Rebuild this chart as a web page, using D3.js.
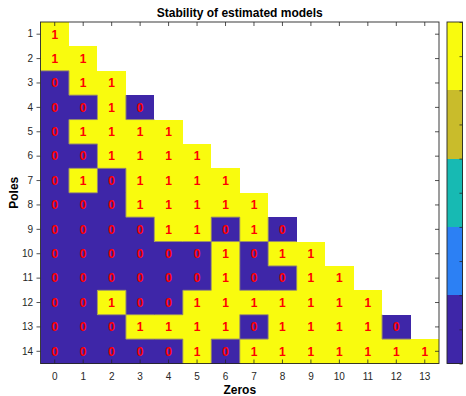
<!DOCTYPE html>
<html>
<head>
<meta charset="utf-8">
<script src="https://cdn.jsdelivr.net/npm/d3@7"></script>
<style>
  html, body { margin: 0; padding: 0; background: #fff; }
  svg { display: block; font-family: "Liberation Sans", Arial, Helvetica, sans-serif; }
</style>
</head>
<body>
<svg id="chart" width="466" height="396"></svg>
<script>
// Number of zeros (columns) and poles (rows)
const zeroTicks = [0, 1, 2, 3, 4, 5, 6, 7, 8, 9, 10, 11, 12, 13];
const poleTicks = [1, 2, 3, 4, 5, 6, 7, 8, 9, 10, 11, 12, 13, 14];

// Stability flag per model: one row per pole count, one entry per zero count (zeros < poles)
const poles1  = [1];
const poles2  = [1, 1];
const poles3  = [0, 1, 1];
const poles4  = [0, 0, 1, 0];
const poles5  = [0, 1, 1, 1, 1];
const poles6  = [0, 0, 1, 1, 1, 1];
const poles7  = [0, 1, 0, 1, 1, 1, 1];
const poles8  = [0, 0, 0, 1, 1, 1, 1, 1];
const poles9  = [0, 0, 0, 0, 1, 1, 0, 1, 0];
const poles10 = [0, 0, 0, 0, 0, 0, 1, 0, 1, 1];
const poles11 = [0, 0, 0, 0, 0, 0, 1, 0, 0, 1, 1];
const poles12 = [0, 0, 1, 0, 0, 1, 1, 1, 1, 1, 1, 1];
const poles13 = [0, 0, 0, 1, 1, 1, 1, 0, 1, 1, 1, 1, 0];
const poles14 = [0, 0, 0, 0, 0, 1, 0, 1, 1, 1, 1, 1, 1, 1];
const stability = [poles1, poles2, poles3, poles4, poles5, poles6, poles7,
                   poles8, poles9, poles10, poles11, poles12, poles13, poles14];

// Five-step parula colormap
const palette = ["#3e26a8", "#2c80f4", "#17bab3", "#c9bc2b", "#f9fb0e"];

const svg = d3.select("#chart");
const plotLeft = 40.5, plotRight = 439, plotTop = 22, plotBottom = 363.5;
const axisColor = "#262626";

const x = d3.scaleBand().domain(zeroTicks).range([plotLeft, plotRight]).padding(0);
const y = d3.scaleBand().domain(poleTicks).range([plotTop, plotBottom]).padding(0);
const color = d3.scaleQuantize().domain([0, 1]).range(palette);

const cells = [];
stability.forEach((row, i) => {
  row.forEach((v, j) => cells.push({ pole: poleTicks[i], zero: zeroTicks[j], value: v }));
});
const lookup = new Map(cells.map(d => [d.pole + "_" + d.zero, d.value]));

// Heatmap cells
svg.append("g")
  .selectAll("rect")
  .data(cells)
  .join("rect")
  .attr("x", d => x(d.zero))
  .attr("y", d => y(d.pole))
  .attr("width", x.bandwidth())
  .attr("height", y.bandwidth())
  .attr("fill", d => color(d.value))
  .attr("shape-rendering", "crispEdges");

// Soft seams where neighbouring cells change colour
const seams = [];
cells.forEach(d => {
  const rightV = lookup.get(d.pole + "_" + (d.zero + 1));
  if (rightV !== undefined && rightV !== d.value) {
    const xx = x(d.zero) + x.bandwidth();
    seams.push([xx, y(d.pole), xx, y(d.pole) + y.bandwidth()]);
  }
  const belowV = lookup.get((d.pole + 1) + "_" + d.zero);
  if (belowV !== undefined && belowV !== d.value) {
    const yy = y(d.pole) + y.bandwidth();
    seams.push([x(d.zero), yy, x(d.zero) + x.bandwidth(), yy]);
  }
});
svg.append("g")
  .selectAll("line")
  .data(seams)
  .join("line")
  .attr("x1", d => d[0]).attr("y1", d => d[1])
  .attr("x2", d => d[2]).attr("y2", d => d[3])
  .attr("stroke", "#9a8f6a")
  .attr("stroke-width", 1);

// Value labels
svg.append("g")
  .selectAll("text")
  .data(cells)
  .join("text")
  .attr("x", d => x(d.zero) + x.bandwidth() / 2)
  .attr("y", d => y(d.pole) + y.bandwidth() / 2)
  .attr("dy", "0.36em")
  .attr("text-anchor", "middle")
  .attr("fill", "#ff0000")
  .attr("font-size", "12px")
  .attr("font-weight", "bold")
  .text(d => d.value);

// Axes
function styleAxis(g) {
  g.select(".domain").remove();
  g.selectAll(".tick line").attr("stroke", axisColor).attr("stroke-width", 0.8);
  g.selectAll(".tick text").attr("fill", axisColor).attr("font-size", "10px")
    .attr("font-family", "Liberation Sans, Arial, sans-serif");
}

svg.append("g")
  .attr("transform", `translate(0,${plotBottom})`)
  .call(d3.axisBottom(x).tickSize(-4).tickPadding(9))
  .call(styleAxis);

svg.append("g")
  .attr("transform", `translate(0,${plotTop})`)
  .call(d3.axisTop(x).tickSize(-4).tickFormat(""))
  .call(styleAxis);

svg.append("g")
  .attr("transform", `translate(${plotLeft},0)`)
  .call(d3.axisLeft(y).tickSize(4).tickPadding(3.5))
  .call(styleAxis);

svg.append("g")
  .attr("transform", `translate(${plotRight},0)`)
  .call(d3.axisRight(y).tickSize(-4).tickFormat(""))
  .call(styleAxis);

// Axes box
svg.append("rect")
  .attr("x", plotLeft).attr("y", plotTop)
  .attr("width", plotRight - plotLeft).attr("height", plotBottom - plotTop)
  .attr("fill", "none")
  .attr("stroke", axisColor)
  .attr("stroke-width", 0.9);

// Title and axis labels
svg.append("text")
  .attr("x", (plotLeft + plotRight) / 2).attr("y", 16.5)
  .attr("text-anchor", "middle")
  .attr("font-size", "12px").attr("font-weight", "bold")
  .attr("fill", "#000")
  .text("Stability of estimated models");

svg.append("text")
  .attr("x", (plotLeft + plotRight) / 2).attr("y", 393.5)
  .attr("text-anchor", "middle")
  .attr("font-size", "12px").attr("font-weight", "bold")
  .attr("fill", "#000")
  .text("Zeros");

svg.append("text")
  .attr("transform", `translate(18,${(plotTop + plotBottom) / 2}) rotate(-90)`)
  .attr("text-anchor", "middle")
  .attr("font-size", "12px").attr("font-weight", "bold")
  .attr("fill", "#000")
  .text("Poles");

// Colorbar
const cbLeft = 447, cbRight = 462.5;
const cScale = d3.scaleLinear().domain([0, 1]).range([plotBottom, plotTop]);
const bands = palette.map(c => {
  const [lo, hi] = color.invertExtent(c);
  return { c, lo, hi };
});
svg.append("g")
  .selectAll("rect")
  .data(bands)
  .join("rect")
  .attr("x", cbLeft)
  .attr("y", d => cScale(d.hi))
  .attr("width", cbRight - cbLeft)
  .attr("height", d => cScale(d.lo) - cScale(d.hi))
  .attr("fill", d => d.c)
  .attr("shape-rendering", "crispEdges");

svg.append("g")
  .attr("transform", `translate(${cbRight},0)`)
  .call(d3.axisRight(cScale).tickValues(d3.range(0, 1.0001, 0.1)).tickSize(-3).tickFormat(""))
  .call(styleAxis);

svg.append("rect")
  .attr("x", cbLeft).attr("y", plotTop)
  .attr("width", cbRight - cbLeft).attr("height", plotBottom - plotTop)
  .attr("fill", "none")
  .attr("stroke", axisColor)
  .attr("stroke-width", 0.9);
</script>
</body>
</html>
